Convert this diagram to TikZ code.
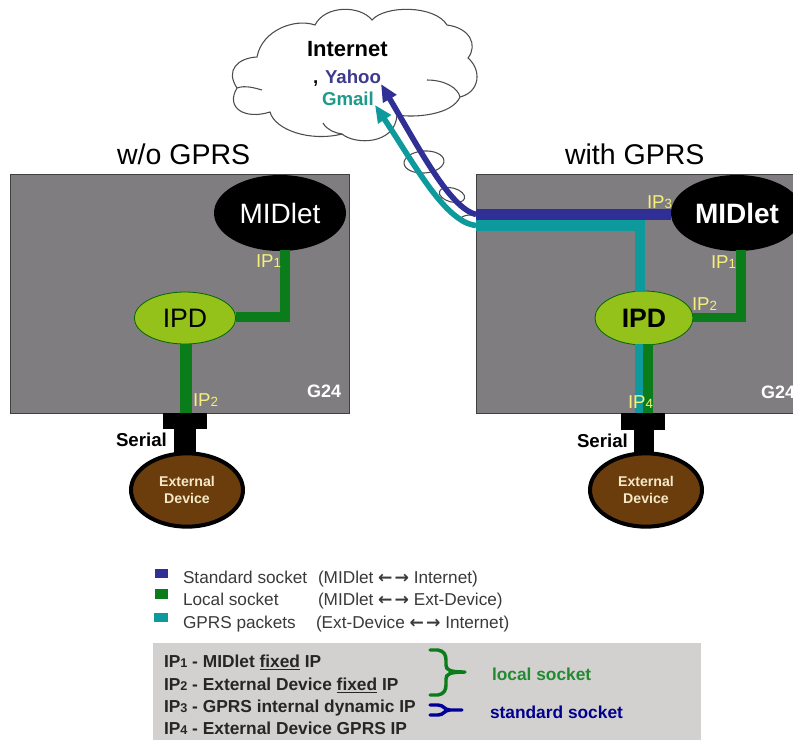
\documentclass[tikz,border=0pt]{standalone}
\usepackage{fontspec}
\setmainfont{Liberation Sans}
\newfontfamily\arrowfont{DejaVu Sans}
\usetikzlibrary{shapes.geometric,arrows.meta}
\definecolor{boxgray}{HTML}{7F7D80}
\definecolor{sblue}{HTML}{2F2F96}
\definecolor{steal}{HTML}{0E9A9C}
\definecolor{sgreen}{HTML}{0A7D1A}
\definecolor{ipdgreen}{HTML}{94C11A}
\definecolor{brownfill}{HTML}{6B3D0C}
\definecolor{ipyellow}{HTML}{F4F07A}
\definecolor{panelgray}{HTML}{D3D1CF}
\definecolor{cream}{HTML}{F5E9C8}
\definecolor{legendtext}{HTML}{3A3A3A}
\definecolor{yahoocol}{HTML}{3E3A8C}
\definecolor{gmailcol}{HTML}{1F9A8A}
\newcommand{\fsz}[1]{\fontsize{#1}{#1}\selectfont}
\newcommand{\ipy}[1]{IP{\fsz{10}#1}}
\newcommand{\ipb}[1]{IP{\fsz{9.5}#1}}
\newcommand{\ulx}[1]{\underline{#1}}
\newcommand{\lr}{{\arrowfont\bfseries ←}\kern1.5pt{\arrowfont\bfseries →}}
\tikzset{
  txt/.style={anchor=base west,inner sep=0pt,outer sep=0pt},
  iplabel/.style={txt,text=ipyellow,font=\fsz{14}},
  g24/.style={txt,text=white,font=\bfseries\fsz{13.5}},
  serial/.style={txt,text=black,font=\bfseries\fsz{14}},
  title/.style={txt,text=black,font=\fsz{21.4}},
  module/.style={draw=black!75,fill=boxgray,line width=.7pt},
  midlet/.style={ellipse,fill=black,text=white,minimum width=99pt,minimum height=57pt,inner sep=0pt},
  ipd/.style={ellipse,fill=ipdgreen,draw=black!60!green,line width=.6pt,text=black,inner sep=0pt},
  extdev/.style={ellipse,fill=brownfill,draw=black,line width=3pt,text=cream,minimum width=84pt,minimum height=55pt,inner sep=0pt,align=center,font=\bfseries\fsz{10.6}},
  greenline/.style={draw=sgreen,line width=7pt,line join=miter},
  tealline/.style={draw=steal,line width=8pt},
  blueline/.style={draw=sblue,line width=8pt},
  bluecurve/.style={draw=sblue,line width=4.2pt,-{Triangle[length=13pt,width=11pt]}},
  tealcurve/.style={draw=steal,line width=4.2pt,-{Triangle[length=13pt,width=11pt]}},
  cloudline/.style={draw=black!70,line width=.8pt},
  swatch/.style={inner sep=0pt,minimum width=10pt,minimum height=7pt},
  legend/.style={txt,text=legendtext,font=\fsz{12.9}},
  paneltext/.style={txt,text=black!85,font=\bfseries\fsz{13}},
  bracket/.style={line width=2.6pt,line cap=round},
}
\begin{document}
\begin{tikzpicture}[x=0.75pt,y=-0.75pt]
\useasboundingbox (0,0) rectangle (793,740);
\clip (0,0) rectangle (793,740);
\fill[white] (0,0) rectangle (793,740);

% cloud
\draw[cloudline,fill=white] (257,57)
  .. controls (262,30) and (295,18) .. (315,25)
  .. controls (325,5) and (360,5) .. (372,20)
  .. controls (385,5) and (435,5) .. (447,25)
  .. controls (470,28) and (478,45) .. (468,58)
  .. controls (482,70) and (480,92) .. (460,97)
  .. controls (452,115) and (415,118) .. (397,115)
  .. controls (395,145) and (355,145) .. (342,134)
  .. controls (310,142) and (275,130) .. (270,112)
  .. controls (245,120) and (225,108) .. (237,88)
  .. controls (225,70) and (238,58) .. (257,57) -- cycle;
\draw[cloudline] (427,80) .. controls (445,80) and (458,88) .. (460,97);
\draw[cloudline] (237,88) .. controls (245,85) and (255,88) .. (262,90);
\draw[cloudline] (323,123) .. controls (327,130) and (335,133) .. (342,134);
\node[txt,font=\bfseries\fsz{16.5}] (inet) at (307,56) {Internet};
\node[txt,font=\bfseries\fsz{14}] (comma) at (313,83) {,};
\node[txt,font=\bfseries\fsz{14},text=yahoocol] (yahoo) at (325,83) {Yahoo};
\node[txt,font=\bfseries\fsz{14},text=gmailcol] (gmail) at (322,105) {Gmail};

% small thought-bubble ellipses
\draw[cloudline,rotate around={4:(424,162)}] (424,162) ellipse (20 and 11);
\draw[cloudline,rotate around={-15:(452,195)}] (452,195) ellipse (13 and 7);
\draw[cloudline] (470,220) ellipse (10 and 5);

% titles
\node[title] (t1) at (117,164) {w/o GPRS};
\node[title] (t2) at (565,164) {with GPRS};

% left module
\draw[module] (10,174) rectangle (349,413);
\node[midlet,font=\fsz{21}] (midA) at (280,213) {MIDlet};
\node[ipd,minimum width=76pt,minimum height=39pt,font=\fsz{20}] (ipdA) at (185,318) {IPD};
\fill[black] (163,413) rectangle (207,429);
\node[extdev] (extA) at (187,490) {External\\[2pt]Device};
\fill[black] (174,429) rectangle (196,455);
\coordinate (portA) at (185.5,413);
\coordinate (elbowA) at (285,317);
\draw[greenline,line width=9pt] (ipdA.south -| portA) -- (portA);
\draw[greenline] (elbowA |- midA.south) ++(0,-1) -- (elbowA) -- (ipdA.east |- elbowA);

% right module
\draw[module] (476,174) rectangle (810,413);
\node[midlet,font=\bfseries\fsz{21}] (midB) at (737,213) {MIDlet};
\node[ipd,minimum width=73.5pt,minimum height=40.5pt,font=\bfseries\fsz{20}] (ipdB) at (644,318) {IPD};
\fill[black] (621,413) rectangle (665,430);
\node[extdev] (extB) at (646,490) {External\\[2pt]Device};
\fill[black] (634,430) rectangle (654,455);
\coordinate (leftB) at (476,214.5);
\coordinate (leftT) at (476,225.5);
\coordinate (portT) at (640,413);
\coordinate (portG) at (648,413);
\coordinate (elbowB) at (741,317.5);
\coordinate (tipB) at (381,84);
\coordinate (tipT) at (375,105);
% teal
\draw[tealline] (portT |- ipdB.north) ++(0,1) -- (portT |- leftT) -- (leftT);
\draw[tealline] (portT |- ipdB.south) ++(0,-1) -- (portT);
\draw[greenline] (portG |- ipdB.south) ++(0,-1) -- (portG);
\draw[greenline] (elbowB |- midB.south) ++(0,-1) -- (elbowB) -- (ipdB.east |- elbowB);
\draw[blueline] (midB.west |- leftB) -- (leftB);
\draw[tealcurve] (leftT) .. controls (445,222) and (415,165) .. (tipT);
\draw[bluecurve] (leftB) .. controls (450,208) and (420,150) .. (tipB);

% labels on modules
\node[iplabel] (a1) at (256,267) {\ipy{1}};
\node[iplabel] (a2) at (193,406) {\ipy{2}};
\node[g24] (ga) at (307,397) {G24};
\node[serial] (sa) at (116,446) {Serial};
\node[iplabel] (b3) at (647,208) {\ipy{3}};
\node[iplabel] (b1) at (711,268) {\ipy{1}};
\node[iplabel] (b2) at (692,310) {\ipy{2}};
\node[iplabel] (b4) at (628,408) {\ipy{4}};
\node[g24] (gb) at (761,398) {G24};
\node[serial] (sb) at (577,447) {Serial};

% legend
\node[swatch,fill=sblue] (k1) at (161.5,573.5) {};
\node[swatch,fill=sgreen] (k2) at (161.5,594) {};
\node[swatch,fill=steal] (k3) at (161,617.5) {};
\node[legend] (l1a) at (183,583) {Standard socket};
\node[legend] (l1b) at (318,583) {(MIDlet \lr{} Internet)};
\node[legend] (l2a) at (183,605) {Local socket};
\node[legend] (l2b) at (318,605) {(MIDlet \lr{} Ext-Device)};
\node[legend] (l3a) at (183,628) {GPRS packets};
\node[legend] (l3b) at (316,628) {(Ext-Device \lr{} Internet)};

% panel
\fill[panelgray] (153,643) rectangle (701,740);
\node[paneltext] (p1) at (164,667) {\ipb{1} - MIDlet \ulx{fixed} IP};
\node[paneltext] (p2) at (164,690) {\ipb{2} - External Device \ulx{fixed} IP};
\node[paneltext] (p3) at (164,712) {\ipb{3} - GPRS internal dynamic IP};
\node[paneltext] (p4) at (164,734) {\ipb{4} - External Device GPRS IP};
\draw[bracket,draw=sgreen] (430,650) -- (438,650) .. controls (444,651) and (446,655) .. (446,660)
  -- (446,665) .. controls (446,670) and (450,672) .. (465,672)
  (430,695) -- (438,695) .. controls (444,694) and (446,690) .. (446,685)
  -- (446,679) .. controls (446,674) and (450,672) .. (465,672);
\draw[bracket,draw=blue!60!black] (430,705) -- (438,705) .. controls (444,705) and (444,710) .. (450,710)
  (430,715) -- (438,715) .. controls (444,715) and (444,710) .. (450,710) -- (462,710);
\node[txt,font=\bfseries\fsz{13},text=sgreen!90!white] (ll) at (492,680) {local socket};
\node[txt,font=\bfseries\fsz{13},text=blue!55!black] (ls) at (490,718) {standard socket};
\end{tikzpicture}
\end{document}
